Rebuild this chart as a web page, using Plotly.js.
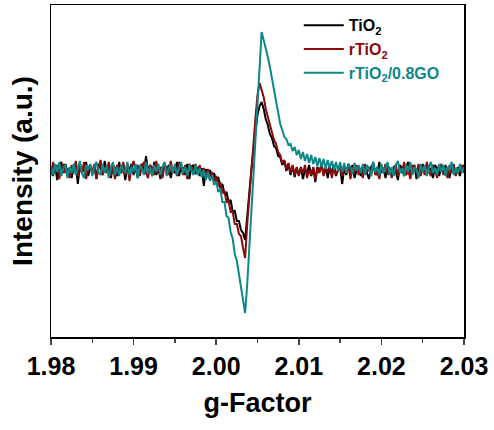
<!DOCTYPE html>
<html>
<head>
<meta charset="utf-8">
<script src="https://cdn.plot.ly/plotly-3.0.1.min.js"></script>
<style>html,body{margin:0;padding:0;background:#fff;}#chart{width:494px;height:430px;}</style>
</head>
<body>
<div id="chart"></div>
<script>
// g-factor sampling: start and step of the recorded spectrum
const G_START = 1.98;
const G_STEP = 0.00025;

const seriesNames = ['TiO<sub>2</sub>', 'rTiO<sub>2</sub>', 'rTiO<sub>2</sub>/0.8GO'];

// TiO2 (black)
const tio2 = [
 2,-6,5,-10,3,8,-3,6,-5,-2,
 -8,3,6,-14,5,-3,2,8,-6,3,
 -2,5,-9,6,2,-5,9,-3,3,-8,
 5,2,-6,8,-3,3,-10,5,0,6,
 -5,3,-8,2,6,-3,14,-2,5,-6,
 8,-5,2,-9,3,6,-3,5,-8,2,
 -3,8,-6,3,2,-5,6,-9,3,5,
 -4,3,-6,2,-16,1,-7,0,-9,-3,-12,-7,-18,-14,-24,-22,-32,-30,-42,-41,-51,-51,-60,-63,-70,
 -45,-20,0,20,40,55,64,68,61,51,45,36,32,24,22,14,13,5,9,-1,6,-5,4,-7,2,
 -5,3,-9,0,-3,5,-6,2,-12,3,
 -2,6,-5,2,-8,3,-3,5,-6,0,
 3,-14,2,-5,6,-3,5,-8,0,3,
 -6,2,5,-3,-9,3,6,-2,-5,8,
 -3,2,-8,5,0,-5,3,-2,-10,5,
 2,-6,3,8,-3,-2,5,-9,3,-5,
 6,-2,-5,3,0,-8,5,2,-6,3,
 -3,5,-2,-8,6,0,-5,3,-6,2,
 5
];

// rTiO2 (dark red)
const rtio2 = [
 -5,8,-2,5,-9,3,6,-3,2,-8,
 5,-2,9,-6,3,-3,8,-9,2,5,
 -3,6,-8,3,10,-5,2,-2,8,-6,
 3,-9,5,2,-3,8,-5,6,-11,3,
 9,-2,5,-6,3,8,-3,-8,5,2,
 -5,9,-2,3,-8,6,2,-5,9,-3,
 3,-6,8,2,-5,5,-9,6,3,-2,
 6,-3,5,-6,2,-7,1,-10,-2,-11,-6,-16,-12,-23,-21,-32,-31,-42,-42,-54,-54,-64,-66,-78,-88,
 -55,-25,-2,25,52,75,87,79,73,61,53,43,38,30,26,18,15,7,10,1,7,-3,5,-5,3,
 -6,2,-3,5,-8,0,-5,3,-9,2,
 -3,6,-6,2,-2,5,-8,3,-5,0,
 5,-6,2,-3,6,-9,3,-2,5,-5,
 2,-8,6,-3,3,-6,8,-5,0,-9,
 5,-2,6,-5,2,-8,3,5,-6,2,
 -3,8,-5,0,-9,5,2,-3,6,-6,
 3,-5,8,-2,-6,5,0,-8,3,6,
 -5,2,-8,5,-3,6,-6,2,-2,5,
 -3
];

// rTiO2/0.8GO (teal)
const rtio2go = [
 3,-5,6,-2,8,-6,2,5,-8,3,
 -3,6,-5,2,9,-3,-8,5,0,6,
 -6,3,8,-2,-5,6,-3,5,-8,2,
 8,-5,3,-6,5,0,-3,8,-5,3,
 -2,6,-8,5,2,-5,8,-3,3,-6,
 5,-2,6,-5,3,8,-6,2,5,-3,
 6,-5,2,8,-3,3,-6,5,0,-5,
 5,-5,2,-7,0,-10,-2,-11,-5,-15,-11,-22,-19,-32,-32,-46,-48,-62,-69,-84,-91,-105,-116,-129,-143,
 -115,-80,-45,-12,22,60,100,138,130,122,113,103,92,81,67,55,46,40,33,31,25,26,19,23,15,
 20,11,18,9,16,7,15,6,13,4,
 12,3,11,1,10,2,9,0,8,-1,
 8,-2,7,-3,6,3,-4,7,-1,5,
 -3,6,-5,5,1,-6,8,-2,3,-5,
 6,-3,2,8,-5,3,-6,5,9,-3,
 2,-6,5,-2,8,-5,3,0,-8,6,
 -2,5,-6,3,8,-3,2,-5,6,-2,
 5,-6,3,0,8,-5,2,-3,6,-2,
 3
];

const xTicks = [1.98, 1.99, 2.00, 2.01, 2.02, 2.03];
const xTickText = ['1.98', '1.99', '2.00', '2.01', '2.02', '2.03'];

const colors = ['#000000', '#8b0a0a', '#0c8888'];
const FONT = 'Liberation Sans, Arial, Helvetica, sans-serif';

const dataSets = [tio2, rtio2, rtio2go];
const traces = dataSets.map((ys, k) => ({
  type: 'scatter',
  mode: 'lines',
  x0: G_START,
  dx: G_STEP,
  y: ys,
  name: '<span style="color:' + colors[k] + '">' + seriesNames[k] + '</span>',
  line: {color: colors[k], width: 2}
}));

const layout = {
  width: 494,
  height: 430,
  margin: {l: 51, r: 30, t: 5, b: 93},
  paper_bgcolor: '#ffffff',
  plot_bgcolor: '#ffffff',
  font: {family: FONT, color: '#000'},
  showlegend: true,
  legend: {
    x: 0.6, y: 0.99, xanchor: 'left', yanchor: 'top',
    bgcolor: 'rgba(0,0,0,0)',
    font: {family: FONT, size: 16, weight: 'bold'},
    itemwidth: 40,
    tracegroupgap: 0
  },
  xaxis: {
    range: [1.98, 2.03],
    tickvals: xTicks,
    ticktext: xTickText,
    ticks: 'outside',
    ticklen: 6,
    tickwidth: 1.5,
    minor: {dtick: 0.005, ticks: 'outside', ticklen: 4, tickwidth: 1.5, showgrid: false},
    showline: true, linewidth: 1.5, linecolor: '#000', mirror: true,
    showgrid: false, zeroline: false,
    tickfont: {family: FONT, size: 25, weight: 'bold', color: '#000'},
    title: {text: 'g-Factor', font: {family: FONT, size: 27, weight: 'bold', color: '#000'}, standoff: 14},
    automargin: false
  },
  yaxis: {
    range: [-167, 165],
    showticklabels: false,
    ticks: '',
    showline: true, linewidth: 1.5, linecolor: '#000', mirror: true,
    showgrid: false, zeroline: false,
    title: {text: 'Intensity (a.u.)', font: {family: FONT, size: 28, weight: 'bold', color: '#000'}, standoff: 8},
    automargin: false
  }
};

Plotly.newPlot('chart', traces, layout, {displayModeBar: false, staticPlot: true});
</script>
</body>
</html>
